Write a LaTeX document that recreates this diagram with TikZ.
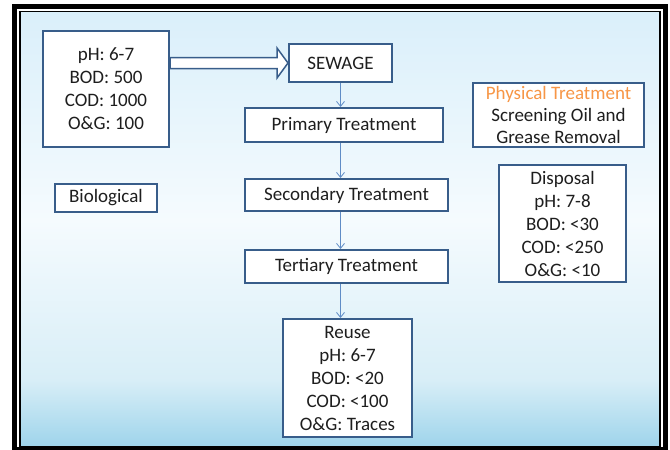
\documentclass[tikz,border=0pt]{standalone}
\usepackage{fontspec}
\setmainfont{Carlito}
\usetikzlibrary{arrows.meta,calc}
\definecolor{boxline}{RGB}{56,93,138}
\definecolor{flowline}{RGB}{95,140,198}
\definecolor{bgtop}{RGB}{218,239,250}
\definecolor{bgmid}{RGB}{245,251,254}
\definecolor{bglow}{RGB}{216,238,247}
\definecolor{bgbot}{RGB}{158,212,235}
\definecolor{physorange}{RGB}{247,150,70}
\definecolor{txt}{RGB}{30,30,30}
\tikzset{
  box/.style={draw=boxline, line width=2pt, fill=white, rectangle, inner sep=0pt,
    align=center, text=txt, font=\fontsize{19}{23}\selectfont},
  flow/.style={draw=flowline, line width=0.8pt, -{Straight Barb[length=5pt,width=8pt,line width=0.8pt]}},
  blockarrow/.style={draw=boxline, line width=1.5pt, fill=white, line join=miter}
}
\begin{document}
\begin{tikzpicture}[x=1pt,y=-1pt]
\useasboundingbox (0,0) rectangle (670,450);
\fill[white] (0,0) rectangle (670,450);
\shade[top color=bgtop, bottom color=bgmid] (20,11) rectangle (660,221);
\shade[top color=bgmid, bottom color=bglow] (20,220) rectangle (660,381);
\shade[top color=bglow, bottom color=bgbot] (20,380) rectangle (660,447);
\draw[black, line width=5pt] (14.5,6.5) rectangle (665.5,449.5);
\draw[black, line width=1.4pt] (20,11.5) rectangle (660,446.5);

\node[box, minimum width=126pt, minimum height=116pt] (input) at (106,88.5)
  {pH: 6-7\\BOD: 500\\COD: 1000\\O\&G: 100};
\node[box, minimum width=103pt, minimum height=38pt] (sewage) at (340.5,63) {SEWAGE};
\node[box, minimum width=198pt, minimum height=34pt] (primary) at (344,125) {Primary Treatment};
\node[box, minimum width=203pt, minimum height=32pt] (secondary) at (346.5,195) {Secondary Treatment};
\node[box, minimum width=203pt, minimum height=33pt] (tertiary) at (346.5,266.5) {Tertiary Treatment};
\node[box, minimum width=129pt, minimum height=118pt] (reuse) at (347.5,378)
  {Reuse\\pH: 6-7\\BOD: <20\\COD: <100\\O\&G: Traces};
\node[box, minimum width=102pt, minimum height=28pt] (bio) at (106,198) {Biological};
\node[box, minimum width=171pt, minimum height=64pt, font=\fontsize{19}{22}\selectfont] (phys) at (558.5,115)
  {\textcolor{physorange}{Physical Treatment}\\Screening Oil and\\Grease Removal};
\node[box, minimum width=127pt, minimum height=117pt] (disp) at (562.5,223.5)
  {Disposal\\pH: 7-8\\BOD: <30\\COD: <250\\O\&G: <10};

\coordinate (bs) at (input.east |- sewage.west);
\coordinate (bt) at (sewage.west);
\draw[blockarrow] ($(bs)+(0,-5.5)$) -- ($(bt)+(-11,-5.5)$) -- ($(bt)+(-11,-15)$)
  -- (bt) -- ($(bt)+(-11,15)$) -- ($(bt)+(-11,5.5)$) -- ($(bs)+(0,5.5)$) -- cycle;

\draw[flow] (sewage.south) -- (sewage.south |- primary.north);
\draw[flow] (sewage.south |- primary.south) -- (sewage.south |- secondary.north);
\draw[flow] (sewage.south |- secondary.south) -- (sewage.south |- tertiary.north);
\draw[flow] (sewage.south |- tertiary.south) -- (sewage.south |- reuse.north);
\end{tikzpicture}
\end{document}
